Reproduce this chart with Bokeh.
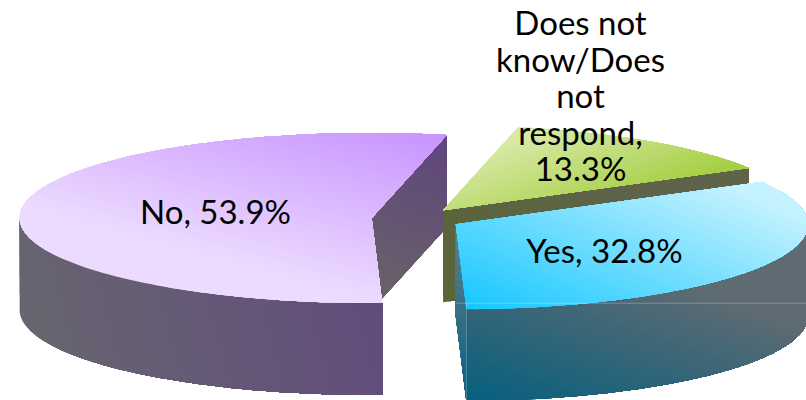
import numpy as np
from bokeh.plotting import figure
from bokeh.models import Range1d, ColumnDataSource
from bokeh.core.properties import value
from bokeh.embed import file_html
from bokeh.resources import INLINE

# ---- data (clockwise from the first slice angle) ----
categories = ["Yes", "No", "Does not know/Does not respond"]
shares = [32.8, 53.9, 13.3]
label_lines = [["Yes, 32.8%"], ["No, 53.9%"],
               ["Does not", "know/Does", "not", "respond,", "13.3%"]]
label_centers = [(604, 249), (215, 210), (580, 21.5)]
LABEL_STEP = 36.6

# ---- layout of the 3-D pie, in page pixels ----
START = 29.8      # degrees, counter-clockwise from +x
CX, CY = 416.0, 218.5
RX, RY = 352.0, 85.0
DEPTH = 92.0
EXPLODE = 0.128

# ---- gradients: (point0, colour0, point1, colour1) ----
TOP = {
    "Yes": ((467, 312), "#14c6ff", (553, 111), "#c4f2ff"),
    "No": ((375, 300), "#ecdaff", (420, 134), "#c896ff"),
    "Does not know/Does not respond": ((513, 140), "#d8e9a6", (547, 233), "#a6cf45"),
}
WALL = {
    "Yes": ((467, 397), "#08607f", (523, 230), "#5f6b72"),
    "No": ((60, 390), "#676470", (385, 300), "#634c7c"),
    "Does not know/Does not respond": ((443, 301), "#5a6537", (600, 170), "#5e6349"),
}
SIDE = {
    "No": ((382, 296), "#6a6268", (443, 150), "#60477c"),
    "Yes": ((457, 235), "#5c7d8b", (465, 395), "#0c6280"),
    "Does not know/Does not respond": ((443, 301), "#5a6537", (600, 170), "#5e6349"),
}


def hex2rgb(h):
    return np.array([int(h[i:i + 2], 16) for i in (1, 3, 5)], float)


def clip_from(poly, n, lim):
    """Keep the part of a polygon with p.n >= lim."""
    out = []
    k = len(poly)
    for i in range(k):
        a, b = poly[i], poly[(i + 1) % k]
        da, db = a.dot(n) - lim, b.dot(n) - lim
        if da >= 0:
            out.append(a)
        if (da >= 0) != (db >= 0):
            out.append(a + (b - a) * da / (da - db))
    return out


def strips(poly, grad, n_strips=70):
    p0, c0, p1, c1 = grad
    p0, p1 = np.array(p0, float), np.array(p1, float)
    c0, c1 = hex2rgb(c0), hex2rgb(c1)
    d = p1 - p0
    n = d / d.dot(d)
    base = p0.dot(n)
    poly = [np.array(q, float) for q in poly]
    ts = [q.dot(n) - base for q in poly]
    tmin, tmax = min(ts), max(ts)
    xs, ys, cols = [], [], []
    edges = np.linspace(tmin, tmax, n_strips + 1)
    for lo, hi in zip(edges[:-1], edges[1:]):
        part = clip_from(poly, n, lo + base)
        if len(part) < 3:
            continue
        t = min(1.0, max(0.0, (lo + hi) / 2))
        c = c0 + (c1 - c0) * t
        xs.append([q[0] for q in part])
        ys.append([q[1] for q in part])
        cols.append("#%02x%02x%02x" % tuple(int(round(v)) for v in c))
    return xs, ys, cols


def rim(c, a0, a1, dy=0.0, n=120):
    a = np.radians(np.linspace(a0, a1, n))
    return list(zip(c[0] + RX * np.cos(a), c[1] + dy - RY * np.sin(a)))


p = figure(width=806, height=400, x_range=Range1d(0, 806), y_range=Range1d(400, 0),
           output_backend="svg", toolbar_location=None, min_border=0,
           outline_line_color=None, background_fill_color="white")
p.axis.visible = False
p.grid.visible = False


def face(poly, grad):
    xs, ys, cols = strips(poly, grad)
    src = ColumnDataSource(dict(xs=xs, ys=ys, c=cols))
    p.patches("xs", "ys", source=src, fill_color="c", line_color=None)


# slice geometry from the values
ang = START
slices = {}
for name, share in zip(categories, shares):
    sweep = share / sum(shares) * 360.0
    a_hi, a_lo = ang, ang - sweep
    mid = np.radians((a_hi + a_lo) / 2)
    c = (CX + EXPLODE * RX * np.cos(mid), CY - EXPLODE * RY * np.sin(mid))
    slices[name] = (c, a_hi, a_lo)
    ang = a_lo


def draw_slice(name):
    c, a_hi, a_lo = slices[name]
    # inner cut wall on the clockwise end of the slice
    ra = np.radians(a_lo)
    e = (c[0] + RX * np.cos(ra), c[1] - RY * np.sin(ra))
    face([c, e, (e[0], e[1] + DEPTH), (c[0], c[1] + DEPTH)], SIDE[name])
    # outer wall: only the part facing the viewer (lower half of the ellipse)
    lo = np.arange(a_lo, a_hi + 1e-6, 1.0)
    front = [a for a in lo if np.sin(np.radians(a)) <= 0.0]
    if front:
        front[-1] = min(a_hi, front[-1] + 1.0) if a_hi < 0 else front[-1]
        top = rim(c, front[0], front[-1], 0.0, 100)
        bot = rim(c, front[-1], front[0], DEPTH, 100)
        face(top + bot, WALL[name])
    # top surface
    face([c] + rim(c, a_lo, a_hi, 0.0, 200), TOP[name])


draw_slice("No")
draw_slice("Does not know/Does not respond")
draw_slice("Yes")

# faint seams on the front of the Yes slice
c, a_hi, a_lo = slices["Yes"]
ex = c[0] + RX * np.cos(np.radians(a_lo))
ey = c[1] - RY * np.sin(np.radians(a_lo))
p.segment([c[0], ex], [ey - 6, ey - 6], [806, ex], [ey - 6, 400],
          line_color="white", line_alpha=0.25, line_width=1)

# labels
tx, ty, tt = [], [], []
for lines, (lx, ly) in zip(label_lines, label_centers):
    for i, s in enumerate(lines):
        tx.append(lx)
        ty.append(ly + i * LABEL_STEP)
        tt.append(s)
p.text(tx, ty, text=tt, text_font=value("Lato"), text_font_size="33px",
       text_color="black", text_align="center", text_baseline="middle")

open("out.html", "w").write(file_html(p, INLINE))
